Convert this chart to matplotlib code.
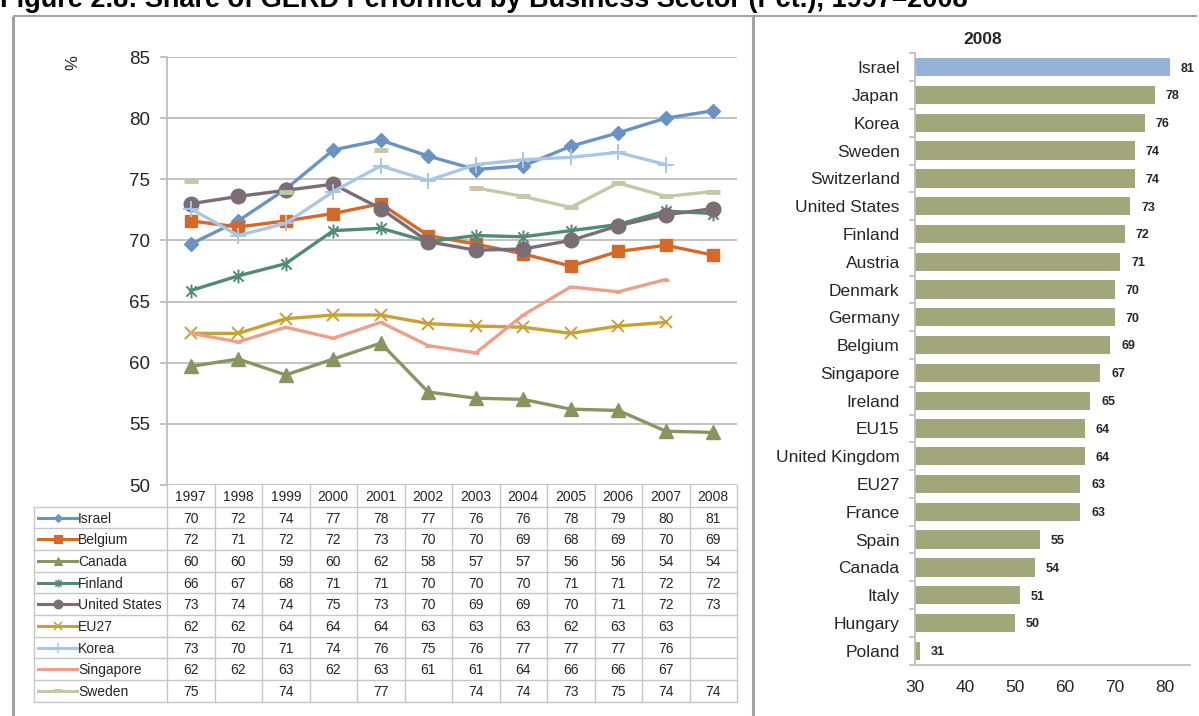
import numpy as np
import matplotlib
matplotlib.use("Agg")
import matplotlib.pyplot as plt
from matplotlib.path import Path

plt.rcParams['font.family'] = ['Liberation Sans', 'DejaVu Sans']

nan = np.nan

# ---- Business-sector share of GERD, 1997-2008 (%) ----
years = [1997, 1998, 1999, 2000, 2001, 2002, 2003, 2004, 2005, 2006, 2007, 2008]
israel = [69.7, 71.6, 74.2, 77.4, 78.2, 76.9, 75.8, 76.1, 77.7, 78.8, 80.0, 80.6]
belgium = [71.6, 71.1, 71.6, 72.2, 73.0, 70.4, 69.7, 68.9, 67.9, 69.1, 69.6, 68.8]
canada = [59.7, 60.3, 59.0, 60.3, 61.6, 57.6, 57.1, 57.0, 56.2, 56.1, 54.4, 54.3]
finland = [65.9, 67.1, 68.1, 70.8, 71.0, 69.9, 70.4, 70.3, 70.8, 71.3, 72.4, 72.2]
united_states = [73.0, 73.6, 74.1, 74.6, 72.6, 69.9, 69.2, 69.3, 70.0, 71.2, 72.1, 72.6]
eu27 = [62.4, 62.4, 63.6, 63.9, 63.9, 63.2, 63.0, 62.9, 62.4, 63.0, 63.3, nan]
korea = [72.6, 70.4, 71.4, 74.0, 76.1, 74.9, 76.2, 76.6, 76.8, 77.2, 76.2, nan]
singapore = [62.4, 61.7, 62.9, 62.0, 63.3, 61.4, 60.8, 63.9, 66.2, 65.8, 66.8, nan]
sweden = [74.9, nan, 74.0, nan, 77.4, nan, 74.3, 73.6, 72.7, 74.7, 73.6, 74.0]

series_names = ['Israel', 'Belgium', 'Canada', 'Finland', 'United States',
                'EU27', 'Korea', 'Singapore', 'Sweden']
series_values = [israel, belgium, canada, finland, united_states,
                 eu27, korea, singapore, sweden]

# ---- 2008 ranking ----
bar_countries = ['Israel', 'Japan', 'Korea', 'Sweden', 'Switzerland', 'United States',
                 'Finland', 'Austria', 'Denmark', 'Germany', 'Belgium', 'Singapore',
                 'Ireland', 'EU15', 'United Kingdom', 'EU27', 'France', 'Spain',
                 'Canada', 'Italy', 'Hungary', 'Poland']
bar_values = [81, 78, 76, 74, 74, 73, 72, 71, 70, 70, 69, 67,
              65, 64, 64, 63, 63, 55, 54, 51, 50, 31]

title = 'Figure 2.8: Share of GERD Performed by Business Sector (Pct.), 1997\u20132008'

W, H = 1199, 716
fig = plt.figure(figsize=(W / 100, H / 100), dpi=100)


def fx(px):
    return px / W


def fy(py):
    return 1 - py / H


# Excel-style "star" marker: an x with a vertical stroke
star_path = Path([(-1, -1), (1, 1), (-1, 1), (1, -1), (0, -1.35), (0, 1.35)],
                 [Path.MOVETO, Path.LINETO, Path.MOVETO, Path.LINETO,
                  Path.MOVETO, Path.LINETO])

styles = {
    'Israel': dict(color='#6a93c3', marker='D', ms=7.5),
    'Belgium': dict(color='#d3692b', marker='s', ms=9),
    'Canada': dict(color='#89955f', marker='^', ms=9.5),
    'Finland': dict(color='#4f8b75', marker=star_path, ms=10, mew=1.4, mfc='none'),
    'United States': dict(color='#7a6d75', marker='o', ms=10.5),
    'EU27': dict(color='#c9a035', marker='x', ms=9, mew=1.4),
    'Korea': dict(color='#a9c7e3', marker='+', ms=11, mew=1.4),
    'Singapore': dict(color='#eba08b', marker='_', ms=5, mew=2),
    'Sweden': dict(color='#c3c8a6', marker='_', ms=10, mew=3.5),
}

grid_c = '#bdbdbd'
frame_c = '#a3a3a3'
text_c = '#262626'

# ---- background layer: frame and data table ----
ov = fig.add_axes([0, 0, 1, 1])
ov.set_xlim(0, W)
ov.set_ylim(H, 0)
ov.axis('off')

ov.plot([13, 13], [16, H], color=frame_c, lw=2.2, solid_capstyle='butt')
ov.plot([13, 1197], [16, 16], color=frame_c, lw=1.5, solid_capstyle='butt')
ov.plot([753, 753], [16, H], color=frame_c, lw=2.2, solid_capstyle='butt')

fig.text(fx(0), fy(7), title, fontsize=19.5, fontweight='bold', ha='left',
         va='baseline', color='black')

# table geometry
t_left, t_x0, t_x1 = 34, 167, 737
col_w = (t_x1 - t_x0) / len(years)
head_top, row_h = 485, 21.67
head_bot = 506.7
tab_c = '#c6c6c6'
n_rows = len(series_names)
t_bot = head_bot + n_rows * row_h

for i in range(n_rows + 1):
    yy = head_bot + i * row_h
    ov.plot([t_left, t_x1], [yy, yy], color=tab_c, lw=1)
ov.plot([t_left, t_left], [head_bot, t_bot], color=tab_c, lw=1)
for j in range(len(years) + 1):
    xx = t_x0 + j * col_w
    ov.plot([xx, xx], [head_top, t_bot], color=tab_c, lw=1)

for j, yr in enumerate(years):
    ov.text(t_x0 + (j + 0.5) * col_w, (head_top + head_bot) / 2 + 1, str(yr),
            ha='center', va='center', fontsize=10, color=text_c)

for i, (name, vals) in enumerate(zip(series_names, series_values)):
    yc = head_bot + (i + 0.5) * row_h
    st = styles[name]
    ov.plot([38, 77], [yc, yc], color=st['color'], lw=2.2)
    ov.plot([57.5], [yc], marker=st['marker'], color=st['color'],
            ms=st['ms'] * 0.6, mew=st.get('mew', 1) * 0.8,
            mfc=st.get('mfc', st['color']))
    ov.text(78, yc + 1, name, ha='left', va='center', fontsize=10, color=text_c)
    for j, v in enumerate(vals):
        if not np.isnan(v):
            ov.text(t_x0 + (j + 0.5) * col_w, yc + 1, f'{v:.0f}', ha='center',
                    va='center', fontsize=10, color=text_c)

# ---- line chart ----
ax = fig.add_axes([fx(167), fy(485), fx(737) - fx(167), fy(57) - fy(485)])
ax.set_facecolor('none')
ax.set_xlim(-0.5, len(years) - 0.5)
ax.set_ylim(50, 85)
ax.set_yticks(range(50, 86, 5))
ax.set_xticks([])
ax.grid(axis='y', color=grid_c, lw=1.3)
ax.set_axisbelow(True)
for s in ['top', 'right', 'bottom']:
    ax.spines[s].set_visible(False)
ax.spines['left'].set_color(grid_c)
ax.spines['left'].set_linewidth(1.3)
ax.tick_params(axis='y', length=5, width=1.3, color=grid_c, labelsize=13.5,
               pad=7, labelcolor=text_c)

x_idx = np.arange(len(years))
for name, vals in zip(series_names, series_values):
    st = styles[name]
    ax.plot(x_idx, vals, color=st['color'], lw=2.4, marker=st['marker'],
            ms=st['ms'], mew=st.get('mew', 1), mec=st['color'],
            mfc=st.get('mfc', st['color']), clip_on=False)

fig.text(fx(73), fy(63), '%', rotation=90, ha='center', va='center',
         fontsize=12, color=text_c)

# ---- 2008 bar chart ----
n = len(bar_countries)
bx = fig.add_axes([fx(915), fy(664.6), fx(1190) - fx(915), fy(53.4) - fy(664.6)])
bx.set_xlim(30, 85)
bx.set_ylim(n - 0.5, -0.5)
colors = ['#95b3d7' if c == 'Israel' else '#a1a77b' for c in bar_countries]
bx.barh(np.arange(n), bar_values, height=0.66, color=colors)
bx.set_yticks(np.arange(n), labels=bar_countries)
bx.set_yticks(np.arange(n + 1) - 0.5, minor=True)
bx.tick_params(axis='y', which='major', length=0, pad=11, labelsize=12.5,
               labelcolor=text_c)
bx.tick_params(axis='y', which='minor', length=4, width=1.2, color=grid_c)
bx.set_xticks(range(30, 81, 10))
bx.tick_params(axis='x', length=0, pad=11, labelsize=12.5, labelcolor=text_c)
for s in ['top', 'right']:
    bx.spines[s].set_visible(False)
for s in ['left', 'bottom']:
    bx.spines[s].set_color(grid_c)
    bx.spines[s].set_linewidth(1.3)
for i, v in enumerate(bar_values):
    bx.text(v + 2.2, i + 0.05, f'{v}', ha='left', va='center', fontsize=9,
            fontweight='bold', color=text_c)

fig.text(fx(983), fy(40), '2008', ha='center', va='center', fontsize=12.5,
         fontweight='bold', color=text_c)

fig.savefig('out.png', dpi=100)
